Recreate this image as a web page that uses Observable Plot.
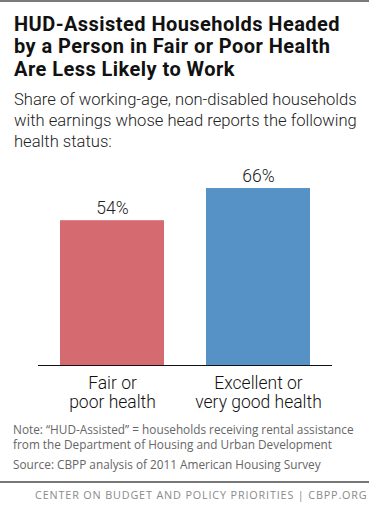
<!DOCTYPE html>
<html>
<head>
<meta charset="utf-8">
<script src="https://cdn.jsdelivr.net/npm/d3@7"></script>
<script src="https://cdn.jsdelivr.net/npm/@observablehq/plot@0.6"></script>
<style>
  html, body { margin: 0; padding: 0; background: #fff; }
  #wrap { position: relative; width: 369px; height: 512px; overflow: hidden; background: #fff; }
  .topline { position: absolute; left: 0; top: 0; width: 369px; height: 2px; background: #7a7a7a; }
  .title { position: absolute; left: 14px; top: 12.5px; width: 360px; font-family: Roboto, sans-serif; font-weight: 700; font-size: 20px; letter-spacing: 0.45px; line-height: 22.5px; color: #111; white-space: nowrap; }
  .subtitle { position: absolute; left: 14px; top: 89px; width: 360px; font-family: Roboto, sans-serif; font-weight: 300; font-size: 16.6px; line-height: 21px; color: #222; white-space: nowrap; }
  #chart { position: absolute; left: 0; top: 150px; }
  .note { position: absolute; left: 13px; top: 422px; font-family: "Open Sans", sans-serif; font-size: 11.8px; line-height: 14.5px; color: #666; white-space: nowrap; }
  .source { position: absolute; left: 13px; top: 457px; font-family: "Open Sans", sans-serif; font-size: 11.8px; line-height: 14px; color: #666; white-space: nowrap; }
  .botline { position: absolute; left: 0; top: 481px; width: 369px; height: 1.5px; background: #777; }
  .footer { position: absolute; left: 35px; top: 488px; font-family: "Open Sans", sans-serif; font-size: 10.8px; letter-spacing: 0.85px; line-height: 13px; color: #8a8a8a; white-space: nowrap; }
</style>
</head>
<body>
<div id="wrap">
  <div class="topline"></div>
  <div class="title">HUD-Assisted Households Headed<br>by a Person in Fair or Poor Health<br>Are Less Likely to Work</div>
  <div class="subtitle">Share of working-age, non-disabled households<br>with earnings whose head reports the following<br>health status:</div>
  <div id="chart"></div>
  <div class="note">Note: “HUD-Assisted” = households receiving rental assistance<br>from the Department of Housing and Urban Development</div>
  <div class="source">Source: CBPP analysis of 2011 American Housing Survey</div>
  <div class="botline"></div>
  <div class="footer">CENTER ON BUDGET AND POLICY PRIORITIES | CBPP.ORG</div>
</div>
<script>
const categories = ["Fair or\npoor health", "Excellent or\nvery good health"];
const shares = [54, 66];
const valueLabels = ["54%", "66%"];
const barColors = ["#d56a70", "#5792c6"];

const data = categories.map((c, i) => ({cat: c, value: shares[i], label: valueLabels[i], color: barColors[i]}));

const chart = Plot.plot({
  width: 369,
  height: 260,
  marginTop: 27.3,
  marginBottom: 45,
  marginLeft: 38,
  marginRight: 37,
  style: {background: "transparent", fontFamily: "Roboto, sans-serif", overflow: "visible"},
  x: {domain: categories, paddingInner: 0.2857, paddingOuter: 0.1429, axis: null},
  y: {domain: [0, 70], axis: null},
  marks: [
    Plot.barY(data, {x: "cat", y: "value", fill: "color"}),
    Plot.ruleY([0], {stroke: "#111", strokeWidth: 1.2}),
    Plot.text(data, {x: "cat", y: "value", text: "label", dy: -12, fontSize: 17.5, fontWeight: 300, fill: "#222"}),
    Plot.text(data, {x: "cat", y: 0, text: "cat", lineAnchor: "top", dy: 10, fontSize: 17.5, fontWeight: 300, lineHeight: 1.09, fill: "#111"})
  ]
});
document.getElementById("chart").appendChild(chart);
</script>
</body>
</html>
